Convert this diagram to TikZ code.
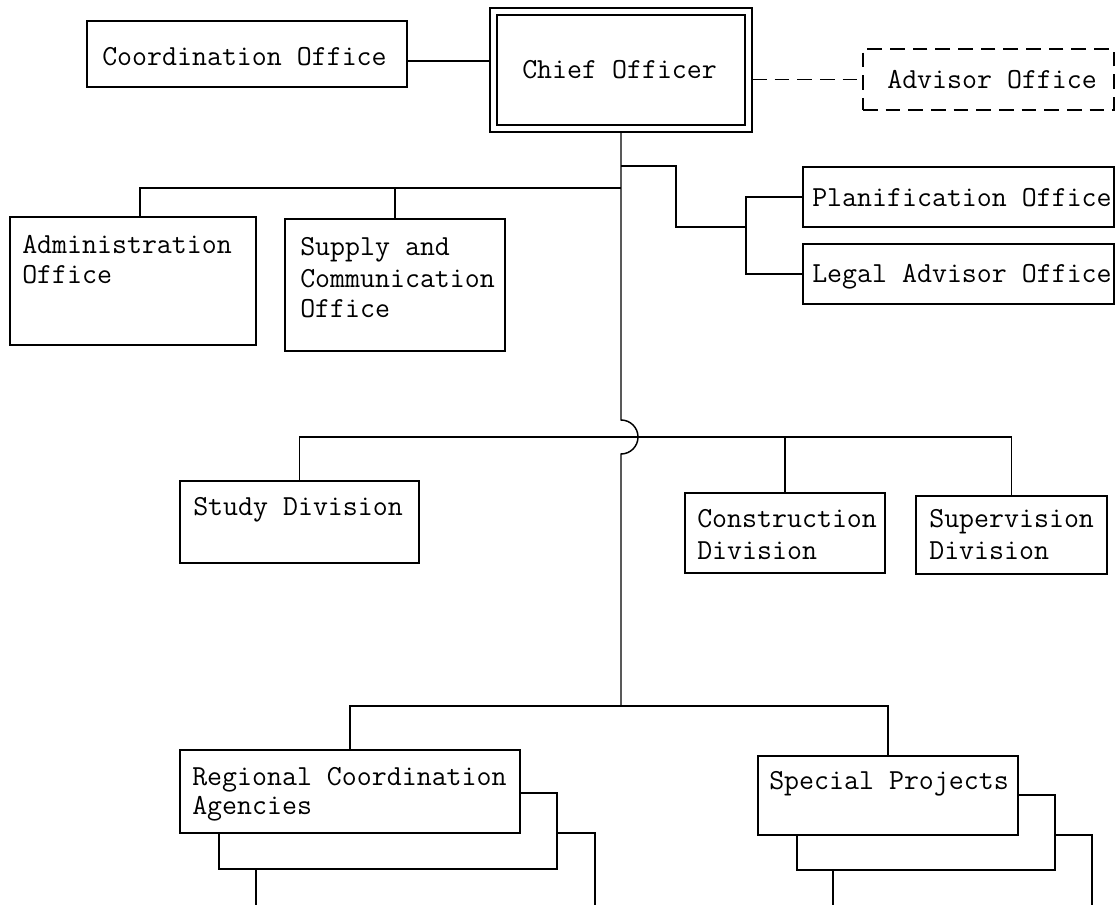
\documentclass[tikz,border=0pt]{standalone}
\usetikzlibrary{calc}
\tikzset{
  box/.style={draw, line width=1.4pt, inner sep=0pt, outer sep=0pt, fill=white},
  conn/.style={line width=1.1pt},
  dashconn/.style={line width=1.1pt, dash pattern=on 11pt off 6pt},
  lbl/.style={anchor=base west, inner sep=0pt, font=\ttfamily\fontsize{21.8}{25}\selectfont},
}
\newcommand\orgbox[6][]{\node[box,#1, minimum width={(#4-#2)*0.75pt}, minimum height={(#5-#3)*0.75pt}] (#6) at ({(#2+#4)/2},{(#3+#5)/2}) {};}
\begin{document}
\begin{tikzpicture}[x=0.75pt,y=-0.75pt]
\useasboundingbox (0,0) rectangle (1116,905);

% stacked boxes behind
\fill[white] (256,905) rectangle (595,833);
\draw[line width=1.4pt] (256,905) -- (256,833) -- (595,833) -- (595,905);
\orgbox{219}{793}{557}{869}{regb}
\fill[white] (833,905) rectangle (1092,835);
\draw[line width=1.4pt] (833,905) -- (833,835) -- (1092,835) -- (1092,905);
\orgbox{797}{795}{1055}{870}{specb}

% boxes
\orgbox{87}{21}{407}{87}{coord}
\orgbox{490}{8}{752}{132}{chief}
\orgbox[line width=1.1pt]{497}{15}{745}{125}{chiefin}
\orgbox[dash pattern=on 11pt off 6pt]{863}{49}{1114}{110}{adv}
\orgbox{10}{217}{256}{345}{admin}
\orgbox{285}{219}{505}{351}{supply}
\orgbox{803}{167}{1114}{227}{plan}
\orgbox{803}{244}{1114}{304}{legal}
\orgbox{180}{481}{419}{563}{study}
\orgbox{685}{493}{885}{573}{constr}
\orgbox{916}{496}{1107}{574}{super}
\orgbox{180}{750}{520}{833}{reg}
\orgbox{758}{756}{1018}{835}{spec}

% labels
\node[lbl] (tcoord) at (102,66) {Coordination Office};
\node[lbl] (tchief) at (522,79) {Chief Officer};
\node[lbl] (tadv) at (887,89) {Advisor Office};
\node[lbl] (tadm1) at (22,254) {Administration};
\node[lbl] (tadm2) at (22,284) {Office};
\node[lbl] (tsup1) at (300,256) {Supply and};
\node[lbl] (tsup2) at (300,288) {Communication};
\node[lbl] (tsup3) at (300,318) {Office};
\node[lbl] (tplan) at (812,207) {Planification Office};
\node[lbl] (tlegal) at (812,283) {Legal Advisor Office};
\node[lbl] (tstudy) at (193,515) {Study Division};
\node[lbl] (tcon1) at (697,527) {Construction};
\node[lbl] (tcon2) at (697,559) {Division};
\node[lbl] (tsv1) at (929,527) {Supervision};
\node[lbl] (tsv2) at (929,559) {Division};
\node[lbl] (treg1) at (192,785) {Regional Coordination};
\node[lbl] (treg2) at (192,814) {Agencies};
\node[lbl] (tspec) at (769,789) {Special Projects};

% connectors
\coordinate (ly) at (0,61);
\draw[conn] (coord.east |- ly) -- (chief.west |- ly);
\draw[dashconn] (chief.east |- adv.west) -- (adv.west);

\path (chief.south) ++(0,288) coordinate (hopT);
\coordinate (jbot) at (chief.south |- 0,706);
\draw[conn] (chief.south) -- (hopT) arc[start angle=-90, end angle=90, radius=17] -- (jbot);

\coordinate (jtop) at (chief.south |- 0,188);
\draw[conn] ($(admin.north)+(7,0)$) |- (jtop);
\draw[conn] (supply.north) -- (supply.north |- jtop);

\coordinate (jr) at (chief.south |- 0,166);
\coordinate (kr) at (746,227);
\draw[conn] (jr) -| (676,227) -- (kr);
\draw[conn] (plan.west) -- (plan.west -| kr) -- (legal.west -| kr) -- (legal.west);

\coordinate (hm) at (chief.south |- 0,437);
\draw[conn] (study.north) |- (hm) -| (super.north);
\draw[conn] (constr.north) -- (constr.north |- hm);

\draw[conn] (reg.north) |- (jbot) -| (spec.north);
\end{tikzpicture}
\end{document}
